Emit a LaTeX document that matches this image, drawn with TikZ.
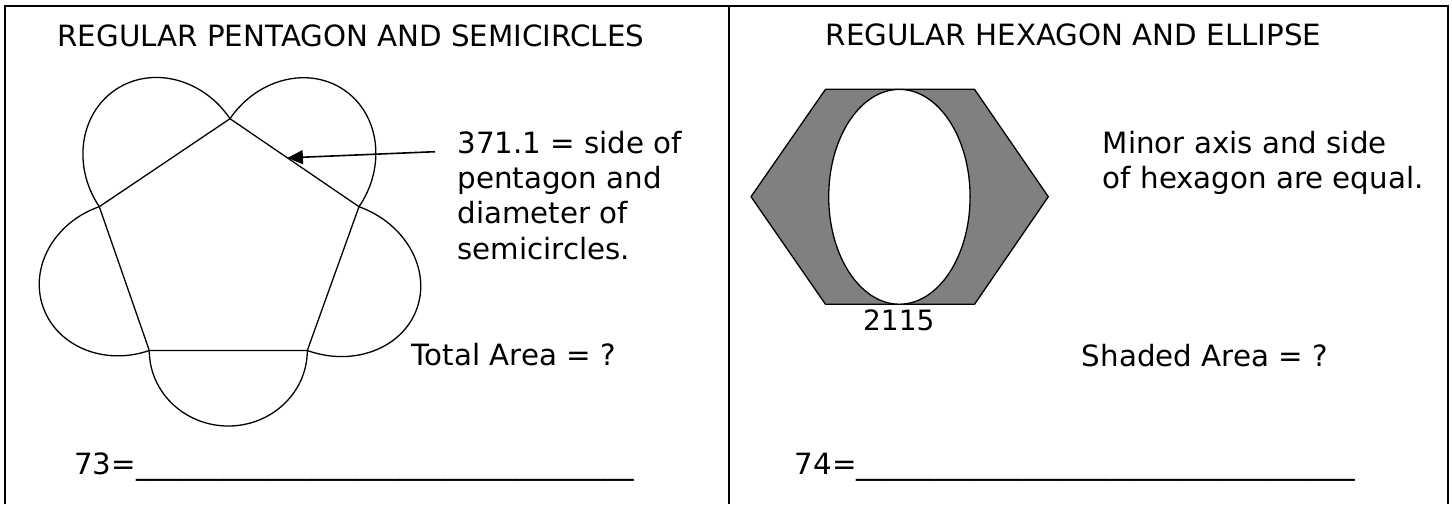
\documentclass[tikz,border=0pt]{standalone}
\usepackage{fontspec}
\setmainfont{DejaVu Sans}
\usepackage{tikz}
\usetikzlibrary{arrows.meta,calc,positioning}
\definecolor{hexgray}{HTML}{808080}

\begin{document}
\begin{tikzpicture}[x=1pt, y=-1pt,
  frame/.style={line width=1.7pt},
  figline/.style={line width=1.3pt, line join=round},
  txt/.style={inner sep=0pt, anchor=base west, font=\fontsize{29.3}{35.3}\selectfont},
  para/.style={txt, align=left}]
\useasboundingbox (0,0) rectangle (1452,504);
\draw[frame] (4.7,504) -- (4.7,5.7) -- (1448.3,5.7) -- (1448.3,504);
\draw[frame] (729.3,5.7) -- (729.3,504);

% pentagon with semicircles
\node[txt] (titleL) at (57.3,46) {REGULAR PENTAGON AND SEMICIRCLES};
\coordinate (P1) at (230,118.7);
\coordinate (P2) at (359,206.7);
\coordinate (P3) at (307.3,350.5);
\coordinate (P4) at (149.3,350.5);
\coordinate (P5) at (99.3,206.7);
\foreach \mx/\my/\hx/\hy/\vx/\vy in {294.5/162.7/64.5/-44/49.6/72.7, 333.15/278.6/-25.85/-71.9/83.7/-30.1,
    228.3/350.5/-79/0/0/-75.5, 124.3/278.6/-25/71.9/-81.3/-28.2, 164.65/162.7/65.35/44/-49.1/73}
  \draw[figline, shift={(\mx,\my)}, x={(\hx pt,\hy pt)}, y={(\vx pt,\vy pt)}]
    (1,0) arc[start angle=0, end angle=180, radius=1];
\draw[figline] (P1) -- (P2) -- (P3) -- (P4) -- (P5) -- cycle;
% base of a multi-line node = last line
\node[para] (sideinfo) at (457.3,259.2) {371.1 = side of\\pentagon and\\diameter of\\semicircles.};
\coordinate (arrowtail) at (435,151.7);
\coordinate (arrowtip) at ($(P1)!0.445!(P2)$);
\draw[line width=1.6pt, -{Triangle[length=15.5pt,width=14pt]}] (arrowtail) -- (arrowtip);
\node[txt] (totalarea) at (411.7,365.5) {Total Area = ?};
\node[txt] (answerL) at (74,474) {73=\_\_\_\_\_\_\_\_\_\_\_\_\_\_\_\_\_\_\_\_\_\_\_\_\_\_\_\_\_\_\_\_\_\_};

% hexagon with ellipse
\node[txt] (titleR) at (825.7,45.7) {REGULAR HEXAGON AND ELLIPSE};
\coordinate (H1) at (825.5,89.3);
\coordinate (H2) at (974.5,89.3);
\coordinate (H3) at (1048.3,196.7);
\coordinate (H4) at (974.5,304.3);
\coordinate (H5) at (825.5,304.3);
\coordinate (H6) at (751,196.7);
\draw[figline, fill=hexgray] (H1) -- (H2) -- (H3) -- (H4) -- (H5) -- (H6) -- cycle;
\draw[figline, fill=white] (899.4,196.8) ellipse[x radius=70.7, y radius=107.4];
\node[inner sep=0pt, anchor=base, font=\fontsize{28}{33}\selectfont] (hexside) at (898.8,330) {2115};
\node[para] (axisinfo) at (1102.7,188.6) {Minor axis and side\\of hexagon are equal.};
\node[txt] (shadedarea) at (1081.7,366.7) {Shaded Area = ?};
\node[txt] (answerR) at (794.6,474) {74=\_\_\_\_\_\_\_\_\_\_\_\_\_\_\_\_\_\_\_\_\_\_\_\_\_\_\_\_\_\_\_\_\_\_};
\end{tikzpicture}
\end{document}
